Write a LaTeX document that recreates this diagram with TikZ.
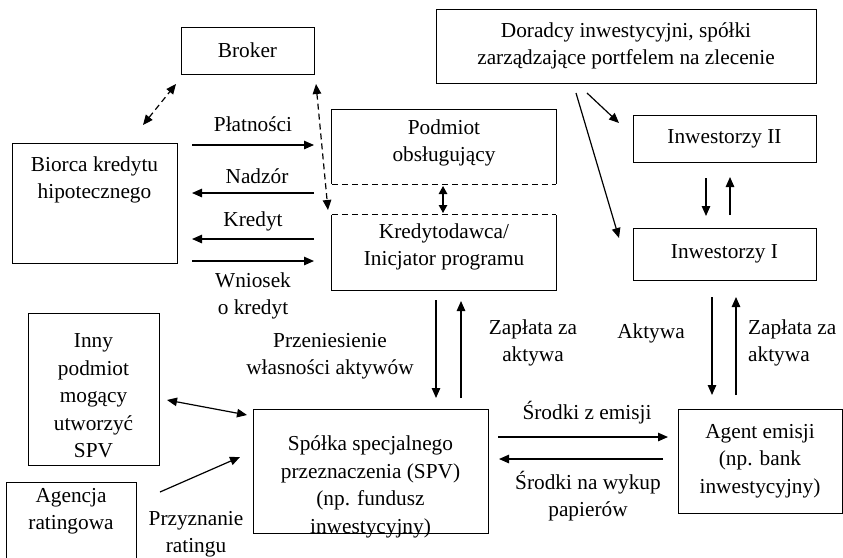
\documentclass[tikz,border=0pt]{standalone}
\usepackage{fontspec}
\setmainfont{Liberation Serif}
\usetikzlibrary{arrows.meta}
\begin{document}
\begin{tikzpicture}[x=1pt,y=-1pt,
  box/.style={draw,line width=0.8pt,inner sep=0pt,align=center,font=\fontsize{21.3}{27.5}\selectfont},
  txt/.style={align=center,inner sep=0pt,font=\fontsize{21.3}{27.5}\selectfont},
  arr/.style={line width=1.2pt,-{Triangle[length=10pt,width=8.5pt]}},
  darr/.style={line width=1.2pt,{Triangle[length=10pt,width=8.5pt]}-{Triangle[length=10pt,width=8.5pt]}},
  sdarr/.style={line width=1.2pt,{Triangle[length=8pt,width=8.5pt]}-{Triangle[length=8pt,width=8.5pt]}},
  dsh/.style={dash pattern=on 6pt off 4pt}]
\useasboundingbox (0,0) rectangle (843,557);

% boxes
\node[box,minimum width=133pt,minimum height=47pt] (broker) at (247.5,50.5) {Broker};
\node[box,minimum width=165pt,minimum height=120pt] (biorca) at (94.5,203) {};
\node[txt] (biorcaT) at (94.5,180) {Biorca kredytu\\hipotecznego};
\node[minimum width=224pt,minimum height=74pt,inner sep=0pt] (pod) at (444,147) {};
\draw[line width=0.8pt] (pod.south west) -- (pod.north west) -- (pod.north east) -- (pod.south east);
\draw[line width=0.8pt,dsh] (pod.south west) -- (pod.south east);
\node[txt] (podT) at (444,143) {Podmiot\\obsługujący};
\node[minimum width=224pt,minimum height=75pt,inner sep=0pt] (kred) at (444,252.5) {};
\draw[line width=0.8pt] (kred.north west) -- (kred.south west) -- (kred.south east) -- (kred.north east);
\draw[line width=0.8pt,dsh] (kred.north west) -- (kred.north east);
\node[txt] (kredT) at (444,247) {Kredytodawca/\\Inicjator programu};
\node[box,minimum width=380pt,minimum height=74pt] (dor) at (626,46) {Doradcy inwestycyjni, spółki\\zarządzające portfelem na zlecenie};
\node[box,minimum width=183pt,minimum height=47pt] (inw2) at (724.5,138.5) {Inwestorzy II};
\node[box,minimum width=183pt,minimum height=52pt] (inw1) at (724.5,254) {Inwestorzy I};
\node[box,minimum width=131pt,minimum height=152pt] (inny) at (93.5,389) {};
\node[txt] (innyT) at (93.5,396) {Inny\\podmiot\\mogący\\utworzyć\\SPV};
\node[box,minimum width=130pt,minimum height=98pt] (agencja) at (71,531) {};
\node[txt] (agencjaT) at (71,511) {Agencja\\ratingowa};
\node[box,minimum width=235pt,minimum height=124pt] (spv) at (370.5,471) {};
\node[txt] (spvT) at (370.5,487) {Spółka specjalnego\\przeznaczenia (SPV)\\(np. fundusz\\inwestycyjny)};
\node[box,minimum width=164pt,minimum height=104pt] (agent) at (760,461) {Agent emisji\\(np. bank\\inwestycyjny)};

% labels
\node[txt] (lPlat) at (253,124) {Płatności};
\node[txt] (lNadz) at (257,176) {Nadzór};
\node[txt] (lKred) at (253,221) {Kredyt};
\node[txt] (lWn) at (253,296) {Wniosek\\o kredyt};
\node[txt] (lPrz) at (330,356) {Przeniesienie\\własności aktywów};
\node[txt] (lZap1) at (533,343) {Zapłata za\\aktywa};
\node[txt] (lAkt) at (651,333) {Aktywa};
\node[txt,align=left,anchor=west] (lZap2) at (748,343) {Zapłata za\\aktywa};
\node[txt] (lSrz) at (587,413) {Środki z emisji};
\node[txt] (lSrw) at (588,496) {Środki na wykup\\papierów};
\node[txt] (lPrzyz) at (196,534) {Przyznanie\\ratingu};

% connector end points
\coordinate (a1) at (143,125); \coordinate (a2) at (176,84);
\coordinate (b1) at (316,84); \coordinate (b2) at (328,210);
\coordinate (cL1) at (192,145); \coordinate (cR1) at (314,145);
\coordinate (cL2) at (192,193); \coordinate (cR2) at (314,193);
\coordinate (cL3) at (192,239); \coordinate (cR3) at (314,239);
\coordinate (cL4) at (192,261); \coordinate (cR4) at (314,261);
\coordinate (d1) at (443,186); \coordinate (d2) at (443,213);
\coordinate (e1) at (436,300); \coordinate (e2) at (436,398);
\coordinate (f1) at (461,398); \coordinate (f2) at (461,301);
\coordinate (g1) at (587,93); \coordinate (g2) at (619,123);
\coordinate (h1) at (576,93); \coordinate (h2) at (619,238);
\coordinate (i1) at (706,178); \coordinate (i2) at (706,216);
\coordinate (j1) at (730,215); \coordinate (j2) at (730,177);
\coordinate (k1) at (712,297); \coordinate (k2) at (712,395);
\coordinate (l1) at (736,395); \coordinate (l2) at (736,297);
\coordinate (m1) at (498,437); \coordinate (m2) at (668,437);
\coordinate (n1) at (663,459); \coordinate (n2) at (499,459);
\coordinate (o1) at (167,400); \coordinate (o2) at (247,415);
\coordinate (q1) at (160,492); \coordinate (q2) at (240,457);

% connectors
\draw[darr,dsh] (a1) -- (a2);
\draw[darr,dsh] (b1) -- (b2);
\draw[arr] (cL1) -- (cR1);
\draw[arr] (cR2) -- (cL2);
\draw[arr] (cR3) -- (cL3);
\draw[arr] (cL4) -- (cR4);
\draw[sdarr] (d1) -- (d2);
\draw[arr] (e1) -- (e2);
\draw[arr] (f1) -- (f2);
\draw[arr] (g1) -- (g2);
\draw[arr] (h1) -- (h2);
\draw[arr] (i1) -- (i2);
\draw[arr] (j1) -- (j2);
\draw[arr] (k1) -- (k2);
\draw[arr] (l1) -- (l2);
\draw[arr] (m1) -- (m2);
\draw[arr] (n1) -- (n2);
\draw[darr] (o1) -- (o2);
\draw[arr] (q1) -- (q2);
\end{tikzpicture}
\end{document}
